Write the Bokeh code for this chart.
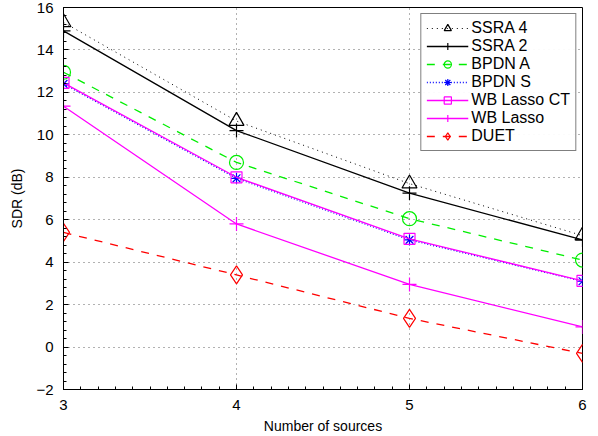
from bokeh.plotting import figure
from bokeh.embed import file_html
from bokeh.resources import INLINE
from bokeh.models import Legend, LegendItem, FixedTicker, Range1d

x = [3, 4, 5, 6]
ssra4 = [15.3, 10.65, 7.7, 5.25]
ssra2 = [14.9, 10.2, 7.25, 5.05]
bpdn_a = [12.95, 8.7, 6.05, 4.1]
bpdn_s = [12.4, 7.95, 5.05, 3.1]
wb_ct = [12.45, 8.0, 5.1, 3.12]
wb = [11.35, 5.8, 2.95, 0.95]
duet = [5.4, 3.4, 1.35, -0.3]

FONT = "Liberation Sans"

p = figure(width=590, height=436, output_backend="svg", toolbar_location=None,
           x_range=Range1d(3, 6), y_range=Range1d(-2, 16),
           min_border_left=63, min_border_right=8, min_border_top=7, min_border_bottom=47)
p.outline_line_color = "black"
p.outline_line_width = 1
p.background_fill_color = "white"
p.border_fill_color = "white"

for ax in (p.xaxis, p.yaxis):
    ax.major_tick_in = 5
    ax.major_tick_out = 0
    ax.minor_tick_in = 3
    ax.minor_tick_out = 0
    ax.axis_line_color = "black"
    ax.major_label_text_font = FONT
    ax.major_label_text_font_size = "15px"
    ax.major_label_text_color = "black"
    ax.axis_label_text_font = FONT
    ax.axis_label_text_font_size = "14px"
    ax.axis_label_text_font_style = "normal"
    ax.axis_label_text_color = "black"
p.xaxis.ticker = FixedTicker(ticks=[3, 4, 5, 6], minor_ticks=[3 + i * 0.1 for i in range(31)])
p.yaxis.ticker = FixedTicker(ticks=list(range(-2, 17, 2)), minor_ticks=[-2 + i * 0.4 for i in range(46)])
p.xaxis.axis_label = "Number of sources"
p.yaxis.axis_label = "SDR (dB)"
p.xaxis.axis_label_standoff = 5
p.yaxis.axis_label_standoff = 8
p.xaxis.major_label_standoff = 10
p.yaxis.major_label_standoff = 10

p.xgrid.grid_line_color = "#555555"
p.ygrid.grid_line_color = "#555555"
p.xgrid.grid_line_dash = "1 4"
p.ygrid.grid_line_dash = "1 4"
p.xgrid.grid_line_alpha = 0.9
p.ygrid.grid_line_alpha = 0.9

items = []

def series(name, ys, color, dash, marker, size, line_width=1.3):
    r1 = p.line(x, ys, line_color=color, line_dash=dash, line_width=line_width)
    r2 = p.scatter(x, ys, marker=marker, size=size, line_color=color, fill_color=None, line_width=1.2)
    items.append(LegendItem(label=name, renderers=[r1, r2]))

series("SSRA 4", ssra4, "black", "1 4", "triangle", 15, 1.0)
series("SSRA 2", ssra2, "black", "solid", "cross", 14)
series("BPDN A", bpdn_a, "#00ee00", "8 8", "circle", 14)
series("BPDN S", bpdn_s, "blue", "1 2", "asterisk", 11)
series("WB Lasso CT", wb_ct, "magenta", "solid", "square", 11)
series("WB Lasso", wb, "magenta", "solid", "cross", 14)
series("DUET", duet, "red", "8 8", "diamond", 18)

legend = Legend(items=items, location="top_right")
legend.label_text_font = FONT
legend.label_text_font_size = "16px"
legend.label_text_color = "black"
legend.border_line_color = "black"
legend.border_line_width = 1.5
legend.glyph_width = 42
legend.glyph_height = 18
legend.label_height = 18
legend.spacing = 0
legend.padding = 5
legend.margin = 6
legend.label_standoff = 3
p.add_layout(legend)

open("out.html", "w").write(file_html(p, INLINE))
